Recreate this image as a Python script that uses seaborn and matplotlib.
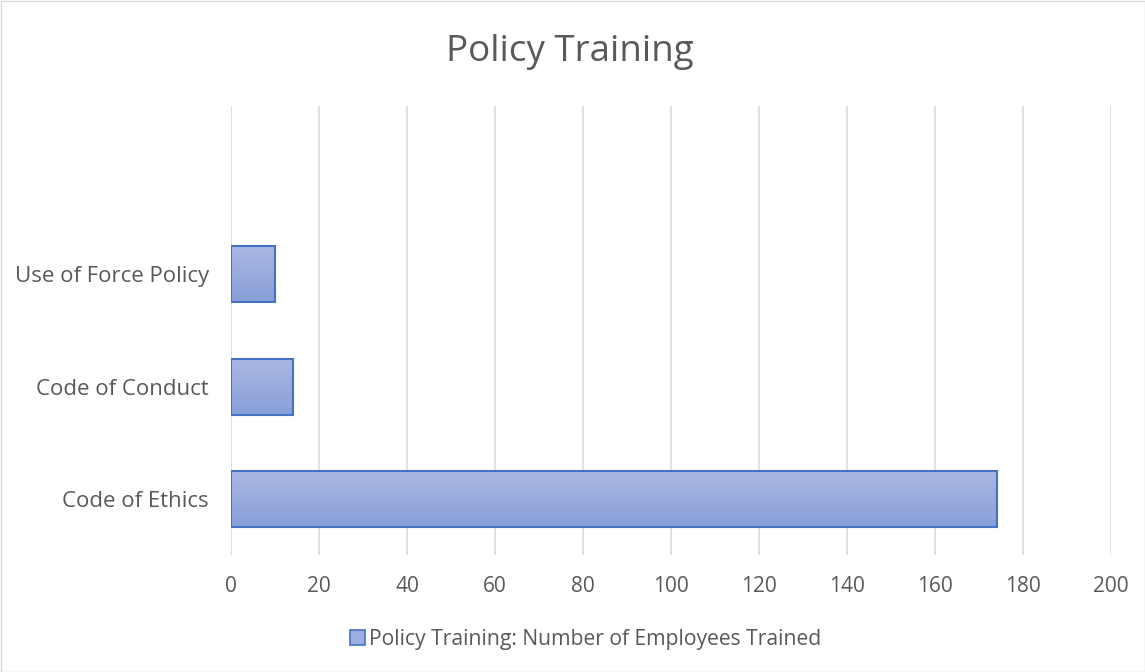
import matplotlib
matplotlib.use("Agg")
import matplotlib.pyplot as plt
import seaborn as sns
import numpy as np
import pandas as pd
from matplotlib.patches import Rectangle, Patch
from matplotlib.colors import LinearSegmentedColormap

categories = ["", "Use of Force Policy", "Code of Conduct", "Code of Ethics"]
values = [np.nan, 10, 14, 174]
x_ticks = [0, 20, 40, 60, 80, 100, 120, 140, 160, 180, 200]
title = "Policy Training"
series_name = "Policy Training: Number of Employees Trained"

df = pd.DataFrame({"cat": categories, "val": values})

sns.set_theme(style="white")
plt.rcParams['font.family'] = ['Open Sans', 'DejaVu Sans']

text_col = "#595959"
grid_col = "#D9D9D9"
edge_col = "#4472C4"

fig = plt.figure(figsize=(11.45, 6.72), dpi=100)
ax = fig.add_axes([231/1145, 1 - 555/672, (1111 - 231)/1145, (555 - 106)/672])

sns.barplot(data=df, x="val", y="cat", order=categories, orient="h",
            color="#9AAEDF", edgecolor=edge_col, linewidth=1.5, width=0.5,
            ax=ax, saturation=1)

ax.set_xlim(0, 200)
ax.set_xticks(x_ticks)
ax.set_xlabel("")
ax.set_ylabel("")
for s in ax.spines.values():
    s.set_visible(False)
ax.grid(axis="x", color=grid_col, linewidth=1.2)
ax.set_axisbelow(True)
ax.tick_params(axis="both", length=0, colors=text_col)
ax.tick_params(axis="x", pad=15, labelsize=15)
ax.tick_params(axis="y", pad=16, labelsize=16)

# gradient fill on bars (lighter at top, darker at bottom)
cmap = LinearSegmentedColormap.from_list("g", ["#AAB9E3", "#889FD8"])
grad = np.linspace(0, 1, 256).reshape(-1, 1)
for p in list(ax.patches):
    if not isinstance(p, Rectangle):
        continue
    w = p.get_width()
    if not np.isfinite(w) or w == 0:
        continue
    x0, y0 = p.get_x(), p.get_y()
    h = p.get_height()
    p.set_facecolor("none")
    im = ax.imshow(grad, extent=[x0, x0 + w, y0 + h, y0], cmap=cmap,
                   aspect="auto", origin="upper", zorder=p.get_zorder() - 0.01)
    im.set_clip_path(p)
    p.set_zorder(p.get_zorder() + 0.1)
ax.set_xlim(0, 200)
ax.set_ylim(3.5, -0.5)

fig.text(570/1145, 1 - 52/672, title, ha="center", va="center",
         fontsize=26.5, color=text_col)

handle = Patch(facecolor="#9AAEDF", edgecolor=edge_col, linewidth=1.2)
fig.legend([handle], [series_name], loc="center", bbox_to_anchor=(586/1145, 1 - 639/672),
           frameon=False, fontsize=15.2, labelcolor=text_col, handlelength=0.7,
           handleheight=0.7, handletextpad=0.2)

border = Rectangle((0.5/1145, 0.5/672), 1 - 1/1145, 1 - 1/672, transform=fig.transFigure,
                   fill=False, edgecolor="#D9D9D9", linewidth=1)
fig.patches.append(border)

fig.savefig("out.png", dpi=100)
